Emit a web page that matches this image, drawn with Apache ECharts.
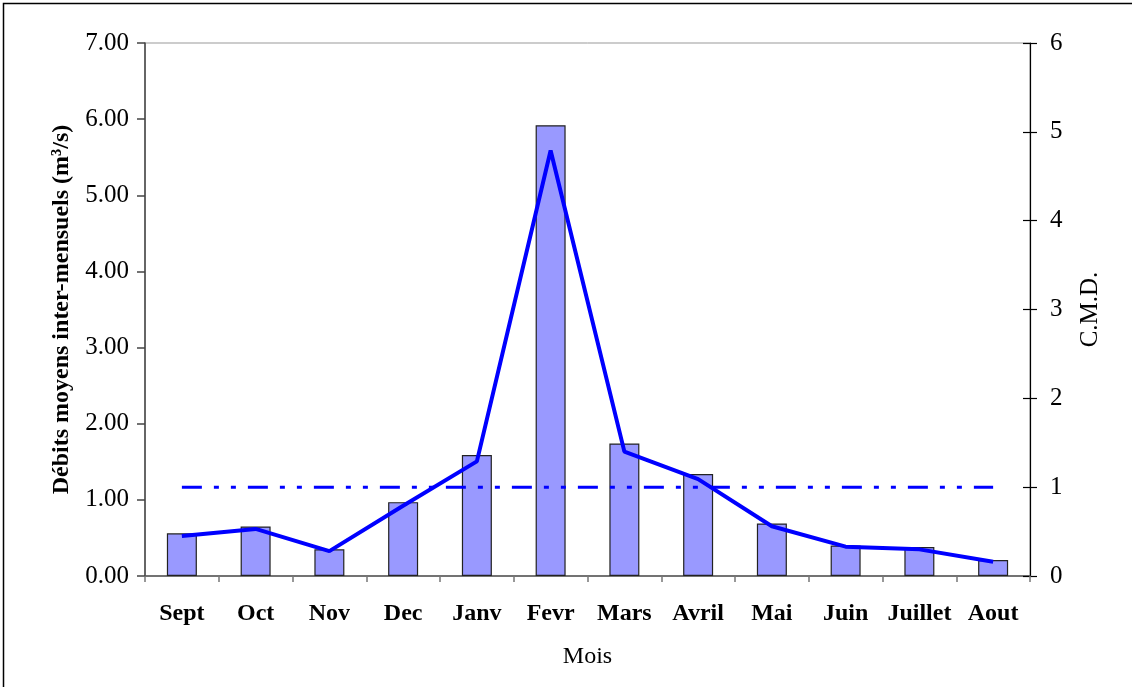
<!DOCTYPE html>
<html>
<head>
<meta charset="utf-8">
<script src="https://cdn.jsdelivr.net/npm/echarts@6/dist/echarts.min.js"></script>
<style>html,body{margin:0;padding:0;background:#fff}#c{width:1132px;height:687px}</style>
</head>
<body>
<div id="c"></div>
<script>
const months = ['Sept','Oct','Nov','Dec','Janv','Fevr','Mars','Avril','Mai','Juin','Juillet','Aout'];
const debits = [0.56,0.65,0.35,0.97,1.59,5.92,1.74,1.34,0.69,0.40,0.38,0.21];
const cmd = [0.45,0.53,0.28,0.79,1.29,4.79,1.40,1.09,0.56,0.33,0.30,0.16];
const cmdRef = [1,1,1,1,1,1,1,1,1,1,1,1];
const leftTicks = {min:0, max:7, interval:1};
const rightTicks = {min:0, max:6, interval:1};

const FF = 'Liberation Serif';
const chart = echarts.init(document.getElementById('c'), null, {renderer:'canvas'});
chart.setOption({
  animation:false,
  backgroundColor:'#fff',
  textStyle:{fontFamily:FF},
  graphic:[{type:'rect', shape:{x:3.5,y:3.5,width:1300,height:900}, style:{fill:'none', stroke:'#000', lineWidth:1.5}, silent:true, z:-1}],
  grid:{left:145, right:102, top:43, bottom:111, show:true, borderColor:'#999', borderWidth:1, backgroundColor:'transparent'},
  xAxis:{
    type:'category', data:months,
    name:'Mois', nameLocation:'middle', nameGap:69,
    nameTextStyle:{fontFamily:FF, fontSize:24, color:'#000'},
    axisLine:{lineStyle:{color:'#555', width:1.5}},
    axisTick:{show:true, length:6, lineStyle:{color:'#777', width:1.5}},
    axisLabel:{fontFamily:FF, fontWeight:'bold', fontSize:24, color:'#000', margin:26, interval:0},
    splitLine:{show:false}
  },
  yAxis:[
    {
      type:'value', min:leftTicks.min, max:leftTicks.max, interval:leftTicks.interval, position:'left',
      name:'Débits moyens inter-mensuels (m³/s)', nameLocation:'middle', nameGap:71, nameRotate:90,
      nameTextStyle:{fontFamily:FF, fontWeight:'bold', fontSize:24, color:'#000'},
      axisLine:{show:true, lineStyle:{color:'#444', width:1.5}},
      axisTick:{show:true, length:8, lineStyle:{color:'#444', width:1.5}},
      axisLabel:{fontFamily:FF, fontSize:25, color:'#000', margin:16, formatter:v=>v.toFixed(2)},
      splitLine:{show:false}
    },
    {
      type:'value', min:rightTicks.min, max:rightTicks.max, interval:rightTicks.interval, position:'right',
      name:'C.M.D.', nameLocation:'middle', nameGap:48, nameRotate:90,
      nameTextStyle:{fontFamily:FF, fontSize:25, color:'#000'},
      axisLine:{show:true, lineStyle:{color:'#000', width:1.2}},
      axisTick:{show:true, length:7, lineStyle:{color:'#000', width:1.2}},
      axisLabel:{fontFamily:FF, fontSize:25, color:'#000', margin:20},
      splitLine:{show:false}
    },
    {
      type:'value', min:rightTicks.min, max:rightTicks.max, interval:rightTicks.interval, position:'right',
      axisLine:{show:false},
      axisTick:{show:true, inside:true, length:7, lineStyle:{color:'#000', width:1.2}},
      axisLabel:{show:false},
      splitLine:{show:false}
    }
  ],
  series:[
    {
      type:'bar', data:debits, yAxisIndex:0, barWidth:30,
      itemStyle:{color:'#9999FF', borderColor:'#222', borderWidth:1.2},
      z:2
    },
    {
      type:'line', data:cmdRef, yAxisIndex:1, symbol:'none',
      lineStyle:{color:'#0000FF', width:3, type:[20,12,5,12,5,12]},
      z:3
    },
    {
      type:'line', data:cmd, yAxisIndex:1, symbol:'none',
      lineStyle:{color:'#0000FF', width:4},
      z:4
    }
  ]
});
</script>
</body>
</html>
